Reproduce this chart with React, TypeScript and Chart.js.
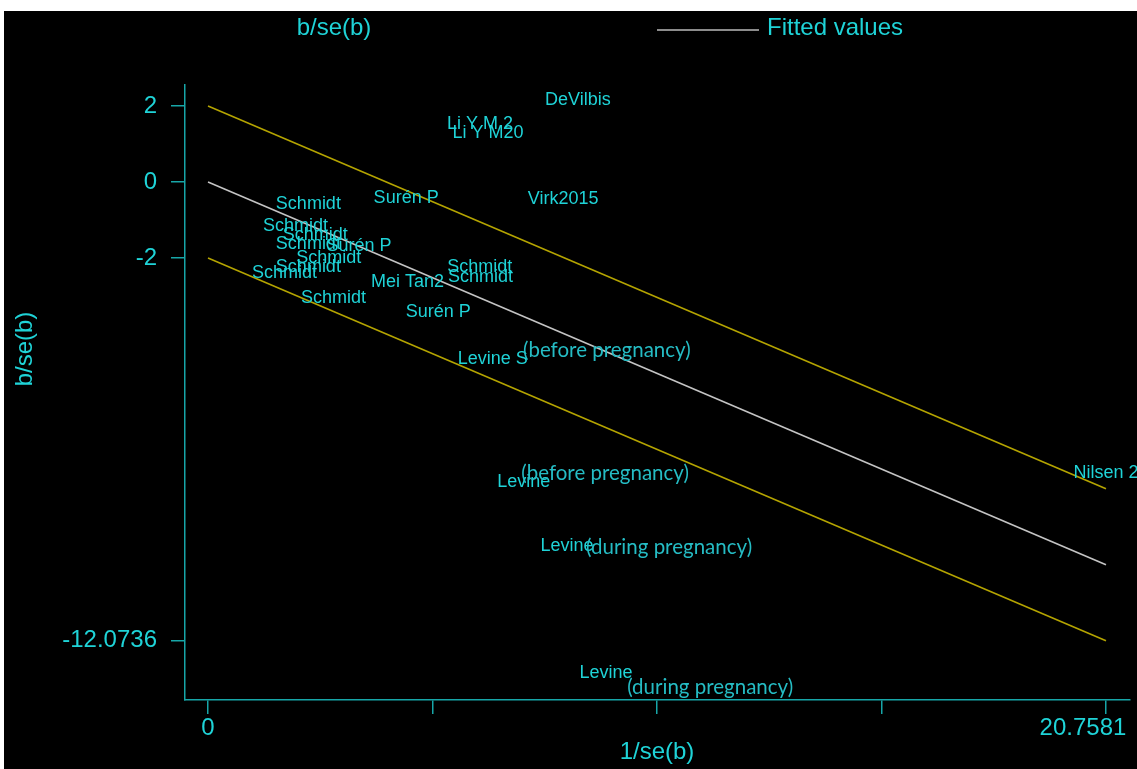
import React, { useEffect, useRef } from "react";
import { Chart, registerables } from "chart.js";

Chart.register(...registerables);

// Study labels (Galbraith plot points, label centred on point)
const studyNames = [
  "DeVilbis", "Li Y M 2", "Li Y M20", "Virk2015", "Surén P", "Schmidt", "Schmidt", "Schmidt",
  "Schmidt", "Surén P", "Schmidt", "Schmidt", "Schmidt", "Schmidt", "Mei Tan2", "Surén P",
  "Schmidt", "Schmidt", "Levine S", "Levine", "Levine", "Levine", "Nilsen 2",
];
const studyX = [
  8.55, 6.29, 6.47, 8.21, 4.58, 2.32, 2.02, 2.48,
  2.32, 3.49, 2.79, 2.32, 1.77, 2.9, 4.61, 5.32,
  6.28, 6.3, 6.58, 7.3, 8.3, 9.2, 20.7581,
];
const studyY = [
  2.16, 1.53, 1.29, -0.45, -0.42, -0.58, -1.16, -1.39,
  -1.63, -1.68, -2.0, -2.24, -2.39, -3.05, -2.63, -3.42,
  -2.24, -2.5, -4.66, -7.89, -9.58, -12.92, -7.66,
];

// Added notes (left-aligned text)
const noteTexts = ["(before pregnancy)", "(before pregnancy)", "(during pregnancy)", "(during pregnancy)"];
const noteX = [7.28, 7.24, 8.74, 9.69];
const noteY = [-4.42, -7.68, -9.61, -13.29];

// Fitted line and ±2 bands (endpoints)
const lineX = [0, 20.7581];
const fittedY = [0, -10.0736];
const upperY = [2, -8.0736];
const lowerY = [-2, -12.0736];

// Axis ticks
const xTickMarks = [0, 5.18953, 10.37905, 15.56858, 20.7581];
const xTickLabels = [0, 20.7581];
const yTickValues = [2, 0, -2, -12.0736];

const CYAN = "#1fd3d7";
const TEAL = "#17a6a8";
const NOTE = "#25bcc4";
const ARIAL = "Arial, 'Liberation Sans', sans-serif";

const decorPlugin = {
  id: "decor",
  beforeDraw(chart: any) {
    const ctx = chart.ctx;
    ctx.save();
    ctx.fillStyle = "#ffffff";
    ctx.fillRect(0, 0, chart.width, chart.height);
    ctx.fillStyle = "#000000";
    ctx.fillRect(4, 11, chart.width - 4, chart.height - 11);
    ctx.restore();
  },
  afterDatasetsDraw(chart: any) {
    const ctx = chart.ctx;
    const xs = chart.scales.x;
    const ys = chart.scales.y;
    ctx.save();
    ctx.font = `18px ${ARIAL}`;
    ctx.fillStyle = CYAN;
    ctx.textAlign = "center";
    ctx.textBaseline = "middle";
    studyNames.forEach((n, i) => {
      ctx.fillText(n, xs.getPixelForValue(studyX[i]), ys.getPixelForValue(studyY[i]));
    });
    ctx.font = `20.5px Lato, 'Open Sans', sans-serif`;
    ctx.fillStyle = NOTE;
    ctx.textAlign = "left";
    noteTexts.forEach((n, i) => {
      ctx.fillText(n, xs.getPixelForValue(noteX[i]), ys.getPixelForValue(noteY[i]));
    });
    ctx.restore();
  },
  afterDraw(chart: any) {
    const ctx = chart.ctx;
    const xs = chart.scales.x;
    const area = chart.chartArea;
    ctx.save();
    ctx.fillStyle = CYAN;
    ctx.font = `24px ${ARIAL}`;
    ctx.textBaseline = "middle";
    // x tick labels
    ctx.textAlign = "center";
    xTickLabels.forEach((v, i) => {
      const px = xs.getPixelForValue(v) + (i === xTickLabels.length - 1 ? -23 : 0);
      ctx.fillText(String(v), px, area.bottom + 28);
    });
    // x title
    ctx.fillText("1/se(b)", (xs.getPixelForValue(0) + xs.getPixelForValue(20.7581)) / 2, 752);
    // top title
    ctx.fillText("b/se(b)", 334, 28);
    // legend
    ctx.strokeStyle = "#8c8c8c";
    ctx.lineWidth = 2;
    ctx.beginPath();
    ctx.moveTo(657, 30);
    ctx.lineTo(759, 30);
    ctx.stroke();
    ctx.textAlign = "left";
    ctx.fillText("Fitted values", 767, 28);
    // y title
    ctx.translate(25, 349);
    ctx.rotate(-Math.PI / 2);
    ctx.textAlign = "center";
    ctx.fillText("b/se(b)", 0, 0);
    ctx.restore();
  },
};

export default function App() {
  const ref = useRef<HTMLCanvasElement | null>(null);
  useEffect(() => {
    if (!ref.current) return;
    const mk = (ys: number[]) => lineX.map((x, i) => ({ x, y: ys[i] }));
    const chart = new Chart(ref.current, {
      type: "scatter",
      data: {
        datasets: [
          { label: "upper", data: mk(upperY), showLine: true, borderColor: "#b4a400", borderWidth: 1.6, pointRadius: 0 },
          { label: "lower", data: mk(lowerY), showLine: true, borderColor: "#b4a400", borderWidth: 1.6, pointRadius: 0 },
          { label: "Fitted values", data: mk(fittedY), showLine: true, borderColor: "#c4c4c4", borderWidth: 1.6, pointRadius: 0 },
          {
            label: "studies",
            data: studyX.map((x, i) => ({ x, y: studyY[i] })),
            pointRadius: 0,
            showLine: false,
          },
        ],
      },
      options: {
        responsive: false,
        animation: false,
        layout: { padding: { top: 85, right: 7, left: 0, bottom: 0 } },
        plugins: { legend: { display: false }, tooltip: { enabled: false } },
        scales: {
          x: {
            type: "linear",
            min: -0.532,
            max: 21.313,
            afterBuildTicks: (s: any) => {
              s.ticks = xTickMarks.map((v) => ({ value: v }));
            },
            afterFit: (s: any) => {
              s.height = 69;
            },
            ticks: { display: false },
            grid: { display: true, drawOnChartArea: false, drawTicks: true, tickLength: 14, color: TEAL, lineWidth: 1.5 },
            border: { display: true, color: TEAL, width: 1.5 },
          },
          y: {
            type: "linear",
            min: -13.63,
            max: 2.553,
            afterBuildTicks: (s: any) => {
              s.ticks = yTickValues.map((v) => ({ value: v }));
            },
            afterFit: (s: any) => {
              s.width = 185;
            },
            ticks: {
              color: CYAN,
              font: { family: ARIAL, size: 24 },
              padding: 14,
              callback: (v: any) => String(v),
            },
            grid: { display: true, drawOnChartArea: false, drawTicks: true, tickLength: 14, color: TEAL, lineWidth: 1.5 },
            border: { display: true, color: TEAL, width: 1.5 },
          },
        },
      },
      plugins: [decorPlugin],
    });
    return () => chart.destroy();
  }, []);
  return (
    <div style={{ position: "absolute", left: 0, top: 0, width: 1137, height: 769 }}>
      <canvas ref={ref} width={1137} height={769} style={{ display: "block" }} />
    </div>
  );
}
